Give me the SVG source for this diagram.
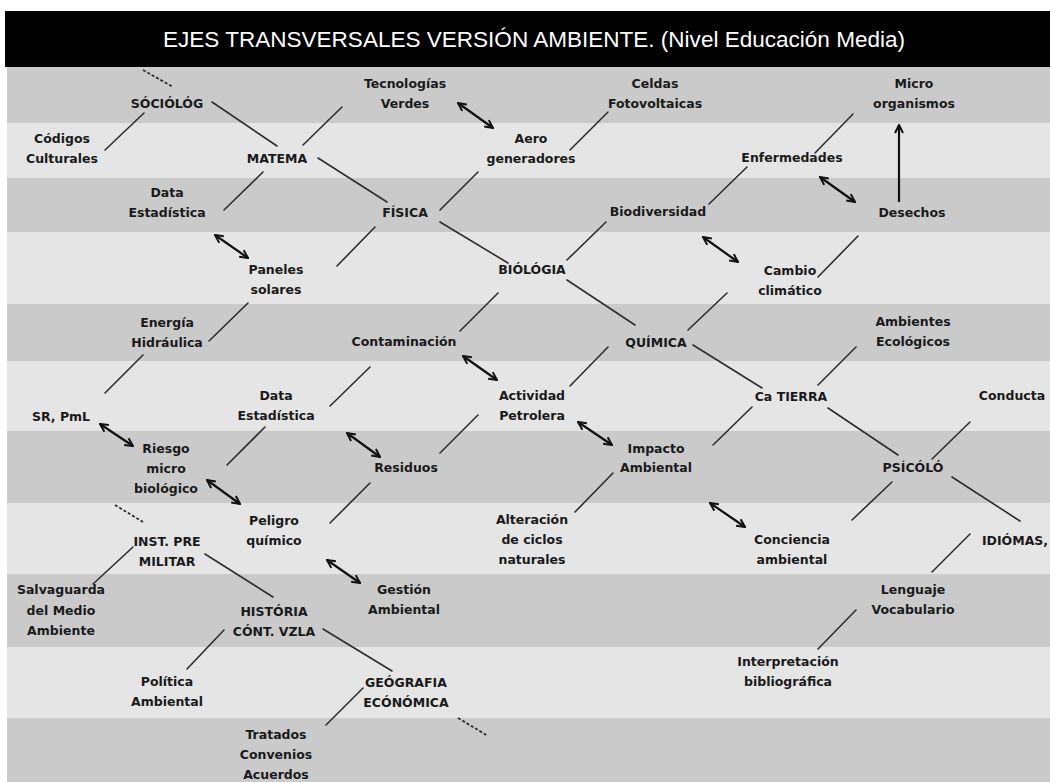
<svg xmlns="http://www.w3.org/2000/svg" width="1050" height="782" viewBox="0 0 1050 782">
<style>
.bd{fill:#cacaca}
.bl{fill:#e5e5e5}
.t{font-family:"DejaVu Sans",sans-serif;font-weight:bold;font-size:12.5px;fill:#1a1a1a;text-anchor:middle}
.ln{stroke:#2e2e2e;stroke-width:1.6;fill:none;stroke-linecap:round}
.ds{stroke:#2e2e2e;stroke-width:1.8;fill:none;stroke-dasharray:3 2}
.ar{stroke:#111;stroke-width:2.2;fill:none;marker-start:url(#ah);marker-end:url(#ah)}
.ar1{stroke:#111;stroke-width:2.2;fill:none;marker-end:url(#ah)}
</style>
<defs>
<marker id="ah" viewBox="0 0 10 10" refX="9" refY="5" markerWidth="10" markerHeight="10" markerUnits="userSpaceOnUse" orient="auto-start-reverse">
<path d="M1,1 L9,5 L1,9" fill="none" stroke="#111" stroke-width="2"/>
</marker>
</defs>
<rect x="0" y="0" width="1050" height="782" fill="#ffffff"/>
<g id="bands">
<rect class="bd" x="7" y="67" width="1043" height="56"/>
<rect class="bl" x="7" y="123" width="1043" height="55"/>
<rect class="bd" x="7" y="178" width="1043" height="54"/>
<rect class="bl" x="7" y="232" width="1043" height="72"/>
<rect class="bd" x="7" y="304" width="1043" height="57"/>
<rect class="bl" x="7" y="361" width="1043" height="70"/>
<rect class="bd" x="7" y="431" width="1043" height="72"/>
<rect class="bl" x="7" y="503" width="1043" height="71"/>
<rect class="bd" x="7" y="574" width="1043" height="73"/>
<rect class="bl" x="7" y="647" width="1043" height="71"/>
<rect class="bd" x="7" y="718" width="1043" height="64"/>
</g>
<g id="title">
<rect x="5" y="11" width="1045" height="56" fill="#000"/>
<text x="534" y="47" font-family="Liberation Sans, sans-serif" font-size="22" fill="#fff" text-anchor="middle" textLength="742" lengthAdjust="spacingAndGlyphs">EJES TRANSVERSALES VERSIÓN AMBIENTE. (Nivel Educación Media)</text>
</g>
<g id="connectors">
<line class="ln" x1="212" y1="102" x2="277" y2="146"/>
<line class="ln" x1="105" y1="150" x2="144" y2="113"/>
<line class="ln" x1="303" y1="145" x2="342" y2="107"/>
<line class="ln" x1="318" y1="158" x2="387" y2="202"/>
<line class="ln" x1="263" y1="172" x2="224" y2="210"/>
<line class="ln" x1="440" y1="210" x2="478" y2="172"/>
<line class="ln" x1="570" y1="150" x2="608" y2="112"/>
<line class="ln" x1="440" y1="222" x2="508" y2="263"/>
<line class="ln" x1="375" y1="227" x2="337" y2="266"/>
<line class="ln" x1="606" y1="222" x2="567" y2="260"/>
<line class="ln" x1="709" y1="204" x2="747" y2="167"/>
<line class="ln" x1="815" y1="153" x2="853" y2="114"/>
<line class="ln" x1="858" y1="236" x2="818" y2="277"/>
<line class="ln" x1="248" y1="303" x2="209" y2="341"/>
<line class="ln" x1="143" y1="355" x2="105" y2="393"/>
<line class="ln" x1="567" y1="280" x2="635" y2="325"/>
<line class="ln" x1="498" y1="293" x2="460" y2="331"/>
<line class="ln" x1="370" y1="367" x2="330" y2="406"/>
<line class="ln" x1="608" y1="347" x2="570" y2="386"/>
<line class="ln" x1="688" y1="330" x2="727" y2="293"/>
<line class="ln" x1="693" y1="345" x2="762" y2="388"/>
<line class="ln" x1="818" y1="385" x2="856" y2="347"/>
<line class="ln" x1="752" y1="407" x2="713" y2="445"/>
<line class="ln" x1="828" y1="408" x2="898" y2="455"/>
<line class="ln" x1="265" y1="427" x2="227" y2="465"/>
<line class="ln" x1="440" y1="453" x2="478" y2="415"/>
<line class="ln" x1="370" y1="483" x2="330" y2="523"/>
<line class="ln" x1="613" y1="473" x2="575" y2="512"/>
<line class="ln" x1="932" y1="459" x2="970" y2="422"/>
<line class="ln" x1="892" y1="482" x2="852" y2="520"/>
<line class="ln" x1="952" y1="477" x2="1020" y2="521"/>
<line class="ln" x1="970" y1="534" x2="932" y2="572"/>
<line class="ln" x1="133" y1="547" x2="93" y2="584"/>
<line class="ln" x1="205" y1="554" x2="273" y2="597"/>
<line class="ln" x1="224" y1="630" x2="187" y2="669"/>
<line class="ln" x1="323" y1="629" x2="392" y2="671"/>
<line class="ln" x1="363" y1="688" x2="326" y2="725"/>
<line class="ln" x1="856" y1="610" x2="818" y2="649"/>
<line class="ds" x1="143" y1="70" x2="173" y2="87"/>
<line class="ds" x1="115" y1="505" x2="143" y2="522"/>
<line class="ds" x1="458" y1="718" x2="488" y2="736"/>
<line class="ar" x1="458" y1="103" x2="493" y2="128"/>
<line class="ar" x1="820" y1="177" x2="855" y2="202"/>
<line class="ar" x1="215" y1="235" x2="248" y2="258"/>
<line class="ar" x1="703" y1="237" x2="738" y2="262"/>
<line class="ar" x1="463" y1="356" x2="497" y2="380"/>
<line class="ar" x1="100" y1="424" x2="133" y2="446"/>
<line class="ar" x1="347" y1="433" x2="380" y2="457"/>
<line class="ar" x1="578" y1="422" x2="612" y2="445"/>
<line class="ar" x1="207" y1="480" x2="240" y2="504"/>
<line class="ar" x1="710" y1="503" x2="745" y2="527"/>
<line class="ar" x1="327" y1="560" x2="360" y2="583"/>
<line class="ar1" x1="899" y1="202" x2="899" y2="125"/>
</g>
<g id="n-sociolog"><text class="t" x="167" y="108">SÓCIÓLÓG</text></g>
<g id="n-codigos"><text class="t" x="62" y="143">Códigos</text><text class="t" x="62" y="163">Culturales</text></g>
<g id="n-matema"><text class="t" x="277" y="163">MATEMA</text></g>
<g id="n-data1"><text class="t" x="167" y="197">Data</text><text class="t" x="167" y="217">Estadística</text></g>
<g id="n-tecnologias"><text class="t" x="405" y="88">Tecnologías</text><text class="t" x="405" y="108">Verdes</text></g>
<g id="n-aero"><text class="t" x="531" y="143">Aero</text><text class="t" x="531" y="163">generadores</text></g>
<g id="n-celdas"><text class="t" x="655" y="88">Celdas</text><text class="t" x="655" y="108">Fotovoltaicas</text></g>
<g id="n-fisica"><text class="t" x="405" y="217">FÍSICA</text></g>
<g id="n-biodiversidad"><text class="t" x="658" y="216">Biodiversidad</text></g>
<g id="n-micro"><text class="t" x="914" y="88">Micro</text><text class="t" x="914" y="108">organismos</text></g>
<g id="n-enfermedades"><text class="t" x="792" y="162">Enfermedades</text></g>
<g id="n-desechos"><text class="t" x="912" y="217">Desechos</text></g>
<g id="n-paneles"><text class="t" x="276" y="274">Paneles</text><text class="t" x="276" y="294">solares</text></g>
<g id="n-biologia"><text class="t" x="532" y="274">BIÓLÓGIA</text></g>
<g id="n-cambio"><text class="t" x="790" y="275">Cambio</text><text class="t" x="790" y="295">climático</text></g>
<g id="n-energia"><text class="t" x="167" y="327">Energía</text><text class="t" x="167" y="347">Hidráulica</text></g>
<g id="n-contaminacion"><text class="t" x="404" y="346">Contaminación</text></g>
<g id="n-quimica"><text class="t" x="656" y="347">QUÍMICA</text></g>
<g id="n-ambientes"><text class="t" x="913" y="326">Ambientes</text><text class="t" x="913" y="346">Ecológicos</text></g>
<g id="n-srpml"><text class="t" x="61" y="421">SR, PmL</text></g>
<g id="n-data2"><text class="t" x="276" y="400">Data</text><text class="t" x="276" y="420">Estadística</text></g>
<g id="n-actividad"><text class="t" x="532" y="400">Actividad</text><text class="t" x="532" y="420">Petrolera</text></g>
<g id="n-catierra"><text class="t" x="791" y="401">Ca TIERRA</text></g>
<g id="n-conducta"><text class="t" x="1012" y="400">Conducta</text></g>
<g id="n-riesgo"><text class="t" x="166" y="453">Riesgo</text><text class="t" x="166" y="473">micro</text><text class="t" x="166" y="493">biológico</text></g>
<g id="n-residuos"><text class="t" x="406" y="472">Residuos</text></g>
<g id="n-impacto"><text class="t" x="656" y="453">Impacto</text><text class="t" x="656" y="472">Ambiental</text></g>
<g id="n-psicolo"><text class="t" x="913" y="472">PSÍCÓLÓ</text></g>
<g id="n-inst"><text class="t" x="167" y="546">INST. PRE</text><text class="t" x="167" y="566">MILITAR</text></g>
<g id="n-peligro"><text class="t" x="274" y="525">Peligro</text><text class="t" x="274" y="545">químico</text></g>
<g id="n-alteracion"><text class="t" x="532" y="524">Alteración</text><text class="t" x="532" y="544">de ciclos</text><text class="t" x="532" y="564">naturales</text></g>
<g id="n-conciencia"><text class="t" x="792" y="544">Conciencia</text><text class="t" x="792" y="564">ambiental</text></g>
<g id="n-idiomas"><text class="t" x="1015" y="545">IDIÓMAS,</text></g>
<g id="n-salvaguarda"><text class="t" x="61" y="594">Salvaguarda</text><text class="t" x="61" y="615">del Medio</text><text class="t" x="61" y="635">Ambiente</text></g>
<g id="n-historia"><text class="t" x="274" y="616">HISTÓRIA</text><text class="t" x="274" y="636">CÓNT. VZLA</text></g>
<g id="n-gestion"><text class="t" x="404" y="594">Gestión</text><text class="t" x="404" y="614">Ambiental</text></g>
<g id="n-lenguaje"><text class="t" x="913" y="594">Lenguaje</text><text class="t" x="913" y="614">Vocabulario</text></g>
<g id="n-politica"><text class="t" x="167" y="686">Política</text><text class="t" x="167" y="706">Ambiental</text></g>
<g id="n-geografia"><text class="t" x="406" y="687">GEÓGRAFIA</text><text class="t" x="406" y="707">ECÓNÓMICA</text></g>
<g id="n-interpretacion"><text class="t" x="788" y="666">Interpretación</text><text class="t" x="788" y="686">bibliográfica</text></g>
<g id="n-tratados"><text class="t" x="276" y="739">Tratados</text><text class="t" x="276" y="759">Convenios</text><text class="t" x="276" y="779">Acuerdos</text></g>
</svg>
